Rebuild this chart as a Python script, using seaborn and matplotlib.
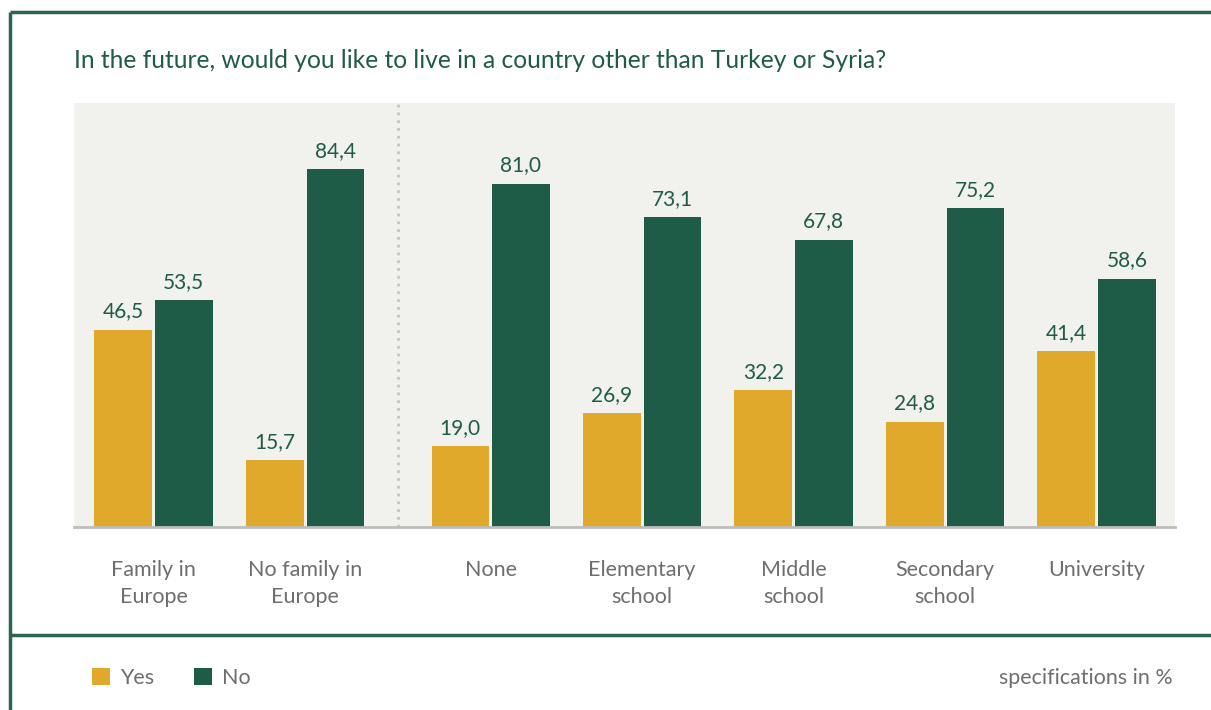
import matplotlib
matplotlib.use("Agg")
import matplotlib.pyplot as plt
from matplotlib.lines import Line2D
from matplotlib.patches import Patch
import seaborn as sns
import pandas as pd

# Survey answers by group (percent)
categories = ["Family in\nEurope", "No family in\nEurope", "None", "Elementary\nschool",
              "Middle\nschool", "Secondary\nschool", "University"]
positions = [0.0, 1.0, 2.225, 3.225, 4.225, 5.225, 6.225]
yes_values = [46.5, 15.7, 19.0, 26.9, 32.2, 24.8, 41.4]
no_values = [53.5, 84.4, 81.0, 73.1, 67.8, 75.2, 58.6]
answers = ["Yes", "No"]

YELLOW = "#E1A92B"
GREEN = "#1E5C47"
FRAME = "#2B6450"
BG = "#F1F1ED"
GREY_TXT = "#6E6E6E"

sns.set_theme(style="white")
plt.rcParams["font.family"] = ["Lato", "DejaVu Sans"]

df = pd.DataFrame({
    "pos": positions * 2,
    "answer": ["Yes"] * len(positions) + ["No"] * len(positions),
    "value": yes_values + no_values,
})

fig = plt.figure(figsize=(12.11, 7.10), dpi=100)
ax = fig.add_axes([74 / 1211, 1 - 527 / 710, (1175 - 74) / 1211, (527 - 103) / 710])
ax.set_facecolor(BG)

sns.barplot(data=df, x="pos", y="value", hue="answer", hue_order=answers,
            palette=[YELLOW, GREEN], native_scale=True, width=0.8, gap=0.05,
            saturation=1, legend=False, ax=ax, linewidth=0)

for cont in ax.containers:
    labels = [f"{b.get_height():.1f}".replace(".", ",") for b in cont]
    ax.bar_label(cont, labels=labels, padding=6, fontsize=15, color=GREEN)

ax.set_xlim(-0.525, 6.743)
ax.set_ylim(0, 100)
ax.set_xticks(positions)
ax.set_xticklabels(categories, fontsize=15.5, color=GREY_TXT, linespacing=1.4)
ax.tick_params(axis="x", length=0, pad=24)
ax.set_yticks([])
ax.set_xlabel("")
ax.set_ylabel("")
for s in ["top", "right", "left"]:
    ax.spines[s].set_visible(False)
ax.spines["bottom"].set_color("#BDBDBD")
ax.spines["bottom"].set_linewidth(2)

# dotted divider between the two groupings
ax.axvline((positions[1] + positions[2]) / 2, color="#C4C4C4", lw=2,
           linestyle=(0, (1, 1.8)), zorder=0)

# frame lines
def fig_line(x0, y0, x1, y1):
    fig.add_artist(Line2D([x0 / 1211, x1 / 1211], [1 - y0 / 710, 1 - y1 / 710],
                          color=FRAME, lw=2.5, solid_capstyle="butt"))

fig_line(10.5, 11.5, 1211, 11.5)
fig_line(10.5, 11.5, 10.5, 710)
fig_line(10.5, 634.5, 1211, 634.5)

fig.text(74 / 1211, 1 - 60 / 710, "In the future, would you like to live in a country other than Turkey or Syria?",
         fontsize=17.7, color=GREEN, va="center", ha="left")

handles = [Patch(facecolor=YELLOW, edgecolor="none"), Patch(facecolor=GREEN, edgecolor="none")]
fig.legend(handles, answers, loc="center left", bbox_to_anchor=(73 / 1211, 1 - 678 / 710),
           ncol=2, frameon=False, fontsize=15.5, labelcolor=GREY_TXT,
           handlelength=0.8, handleheight=0.8, handletextpad=0.5, columnspacing=1.85)

fig.text(1173 / 1211, 1 - 678 / 710, "specifications in %", fontsize=15.4, color=GREY_TXT,
         ha="right", va="center")

fig.savefig("out.png", dpi=100, facecolor="white")
